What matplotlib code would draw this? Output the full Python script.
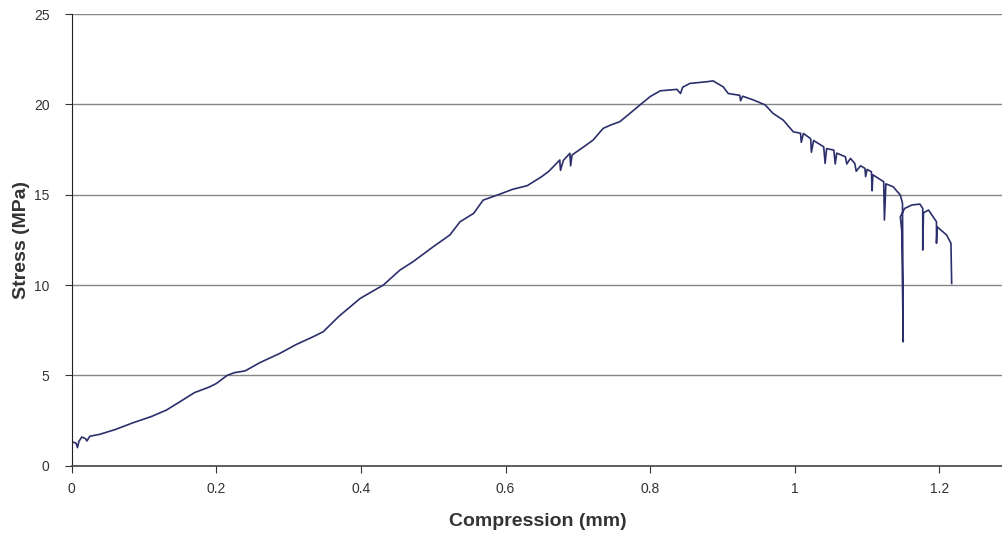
import matplotlib as mpl
mpl.use('Agg')

import matplotlib.pyplot as plt

# compression (mm) vs stress (MPa)
compression = [
    0.000, 0.006, 0.008, 0.010, 0.014, 0.019, 0.021, 0.025, 0.039, 0.060,
    0.085, 0.110, 0.131, 0.150, 0.170, 0.190, 0.200, 0.215, 0.225, 0.240,
    0.260, 0.288, 0.310, 0.334, 0.348, 0.369, 0.399, 0.431, 0.454, 0.472,
    0.500, 0.523, 0.537, 0.556, 0.569, 0.590, 0.610, 0.630, 0.650, 0.660,
    0.675, 0.676, 0.680, 0.689, 0.690, 0.692, 0.705, 0.721, 0.735, 0.745,
    0.758, 0.772, 0.786, 0.800, 0.814, 0.837, 0.842, 0.845, 0.855, 0.878,
    0.887, 0.901, 0.908, 0.924, 0.925, 0.928, 0.943, 0.959, 0.970, 0.984,
    0.998, 1.008, 1.009, 1.012, 1.022, 1.023, 1.026, 1.040, 1.042, 1.044,
    1.054, 1.056, 1.058, 1.070, 1.072, 1.077, 1.083, 1.085, 1.091, 1.097,
    1.098, 1.100, 1.106, 1.107, 1.108, 1.123, 1.124, 1.126, 1.136, 1.146,
    1.149, 1.150, 1.148, 1.146, 1.152, 1.162, 1.173, 1.177, 1.177, 1.178,
    1.185, 1.196, 1.196, 1.197, 1.210, 1.216, 1.217,
]
stress = [
    1.33, 1.25, 1.00, 1.35, 1.59, 1.50, 1.37, 1.63, 1.74, 2.00,
    2.38, 2.72, 3.08, 3.55, 4.05, 4.35, 4.55, 5.00, 5.15, 5.25,
    5.70, 6.22, 6.70, 7.14, 7.42, 8.25, 9.26, 10.00, 10.83, 11.29,
    12.12, 12.77, 13.50, 13.97, 14.70, 15.00, 15.30, 15.50, 16.00, 16.30,
    16.92, 16.35, 16.90, 17.29, 16.60, 17.20, 17.56, 18.02, 18.67, 18.85,
    19.04, 19.50, 19.97, 20.43, 20.75, 20.83, 20.60, 20.95, 21.16, 21.25,
    21.30, 20.97, 20.60, 20.50, 20.20, 20.45, 20.24, 19.97, 19.50, 19.13,
    18.48, 18.40, 17.90, 18.39, 18.10, 17.35, 18.00, 17.65, 16.73, 17.55,
    17.47, 16.70, 17.30, 17.10, 16.70, 17.01, 16.73, 16.30, 16.60, 16.46,
    16.00, 16.40, 16.27, 15.22, 16.10, 15.72, 13.60, 15.60, 15.44, 14.98,
    14.52, 6.86, 13.00, 13.78, 14.24, 14.43, 14.48, 14.24, 11.94, 14.00,
    14.15, 13.50, 12.31, 13.22, 12.77, 12.31, 10.09,
]
x_ticks = [0, 0.2, 0.4, 0.6, 0.8, 1, 1.2]
x_tick_labels = ['0', '0.2', '0.4', '0.6', '0.8', '1', '1.2']
y_ticks = [0, 5, 10, 15, 20, 25]

plt.rcParams['font.family'] = ['Liberation Sans', 'DejaVu Sans']

fig = plt.figure(figsize=(10.03, 5.35), dpi=100)
ax = fig.add_axes([0.0715, 0.1295, 0.9285, 0.8443])

ax.plot(compression, stress, color='#2b2f6b', lw=1.2)

ax.set_xlim(0, 1.288)
ax.set_ylim(0, 25)
ax.set_xticks(x_ticks)
ax.set_xticklabels(x_tick_labels)
ax.set_yticks(y_ticks)

ax.grid(axis='y', color='#868686', lw=1)
ax.set_axisbelow(True)
for s in ['top', 'right']:
    ax.spines[s].set_visible(False)
ax.spines['left'].set_color('#222222')
ax.spines['bottom'].set_color('#444444')
ax.spines['bottom'].set_linewidth(1.2)

ax.tick_params(axis='y', length=5, pad=11, labelsize=10, colors='#333333')
ax.tick_params(axis='x', length=5, pad=7, labelsize=10, colors='#333333')

ax.set_xlabel('Compression (mm)', fontsize=14, fontweight='bold', color='#333333')
ax.set_ylabel('Stress (MPa)', fontsize=14, fontweight='bold', color='#333333')
ax.xaxis.label.set_va('center')
ax.yaxis.label.set_va('center')
ax.xaxis.set_label_coords(0.5, -0.1224)
ax.yaxis.set_label_coords(-0.0534, 0.5)

plt.savefig('out.png', dpi=100)
plt.close()
